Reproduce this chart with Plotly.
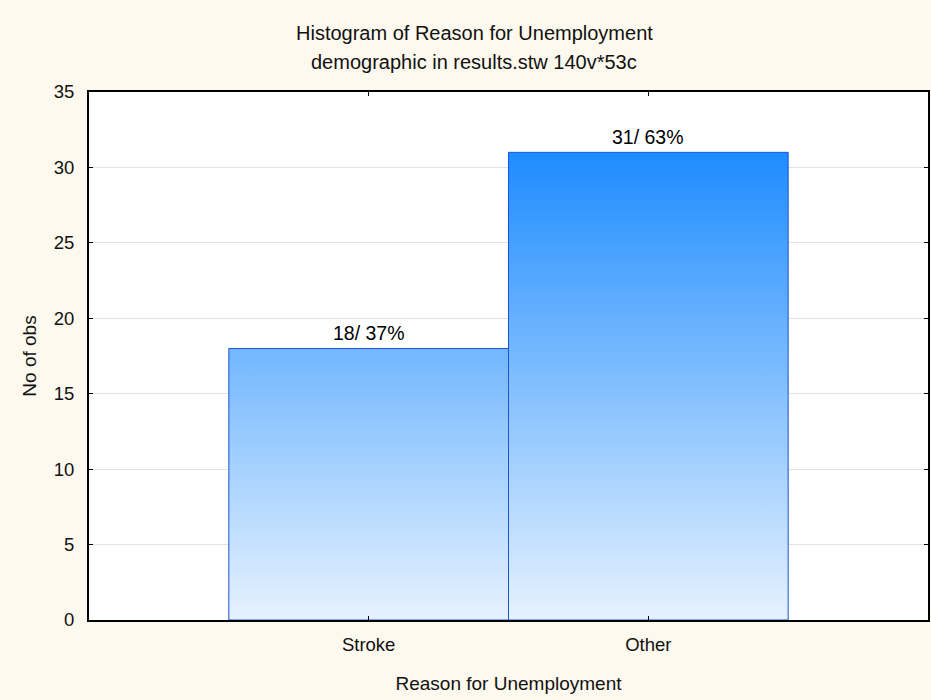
import plotly.graph_objects as go

# Histogram data
categories = ["Stroke", "Other"]
counts = [18, 31]
y_ticks = [0, 5, 10, 15, 20, 25, 30, 35]

title_line1 = "Histogram of Reason for Unemployment"
title_line2 = "demographic in results.stw 140v*53c"
x_title = "Reason for Unemployment"
y_title = "No of obs"

total = sum(counts)
top = max(counts)

BG = "#FDF9EE"
EDGE = "#1A55D4"
FONT = "Arial, Liberation Sans, sans-serif"

fig = go.Figure()

# Each bar is a filled polygon so it can carry a vertical gradient shared by all bars
for i, (cat, n) in enumerate(zip(categories, counts)):
    x0, x1 = i - 0.5, i + 0.5
    fig.add_trace(go.Scatter(
        x=[x0, x0, x1, x1, x0],
        y=[0, n, n, 0, 0],
        mode="lines",
        fill="toself",
        line=dict(color=EDGE, width=1),
        fillgradient=dict(
            type="vertical",
            colorscale=[[0, "#E7F2FE"], [1, "#1E8CFF"]],
            start=0,
            stop=top,
        ),
        hoverinfo="skip",
        showlegend=False,
    ))
    fig.add_annotation(
        x=i, y=n, xref="x", yref="y",
        text=f"{n}/ {round(100 * n / total)}%",
        showarrow=False, yanchor="bottom", yshift=2,
        font=dict(family=FONT, size=19.5, color="#000000"),
    )

L, R, T, B = 89, 1, 92, 80
W, H = 931, 700
plot_h = H - T - B


def paper_y(px):
    return (H - B - px) / plot_h


for text, py in ((title_line1, 33), (title_line2, 62)):
    fig.add_annotation(text=text, xref="paper", yref="paper",
                       x=(475 - L) / (W - L - R), y=paper_y(py), showarrow=False,
                       xanchor="center", yanchor="middle",
                       font=dict(family=FONT, size=20, color="#111111"))

fig.update_layout(
    width=W, height=H,
    margin=dict(l=L, r=R, t=T, b=B),
    paper_bgcolor=BG,
    plot_bgcolor="white",
    font=dict(family=FONT, size=18, color="#111111"),
    showlegend=False,
)

fig.update_xaxes(
    range=[-1, len(categories)],
    tickvals=list(range(len(categories))),
    ticktext=categories,
    ticks="inside", ticklen=4, tickwidth=1, tickcolor="black",
    showline=True, linecolor="black", linewidth=2, mirror="ticks",
    showgrid=False, zeroline=False,
    ticklabelstandoff=7,
    title=dict(text=x_title, standoff=22, font=dict(size=19)),
    tickfont=dict(size=18.5),
)
fig.update_yaxes(
    range=[0, 35],
    tickvals=y_ticks,
    ticks="inside", ticklen=4, tickwidth=1, tickcolor="black",
    showline=True, linecolor="black", linewidth=2, mirror="ticks",
    showgrid=True, gridcolor="#E2E2E2", gridwidth=1, zeroline=False,
    ticklabelstandoff=9,
    title=dict(text=y_title, standoff=12, font=dict(size=19)),
    tickfont=dict(size=18.5),
)

fig.write_html("out.html")
